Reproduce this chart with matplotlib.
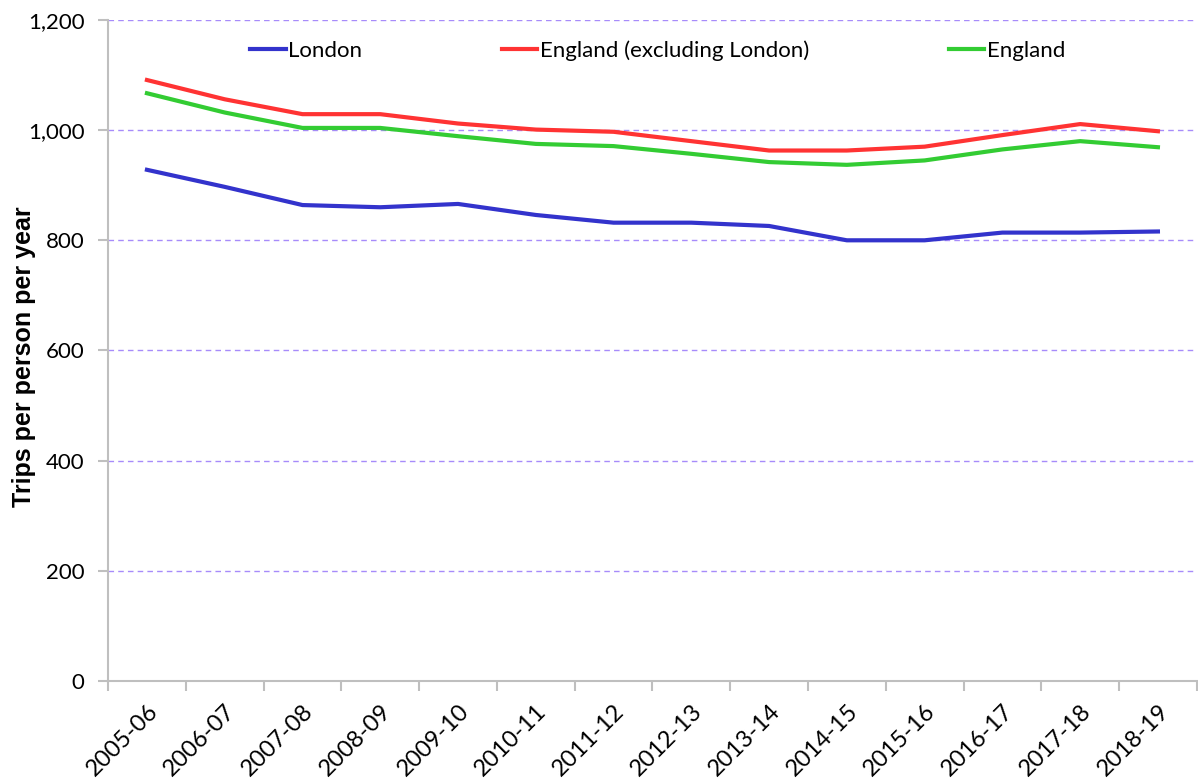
import matplotlib
matplotlib.use('Agg')
import matplotlib.pyplot as plt

# data
years = ['2005-06', '2006-07', '2007-08', '2008-09', '2009-10', '2010-11', '2011-12',
         '2012-13', '2013-14', '2014-15', '2015-16', '2016-17', '2017-18', '2018-19']
london = [928, 897, 864, 860, 866, 846, 832, 832, 826, 800, 800, 814, 814, 816]
england_excl = [1091, 1056, 1029, 1029, 1012, 1001, 997, 980, 963, 963, 970, 991, 1011, 998]
england = [1067, 1032, 1004, 1004, 989, 975, 971, 957, 942, 937, 945, 965, 980, 969]
yticks = [0, 200, 400, 600, 800, 1000, 1200]

plt.rcParams['font.family'] = ['Lato', 'DejaVu Sans']

fig = plt.figure(figsize=(11.98, 7.83), dpi=100)
ax = fig.add_axes([0.0902, 0.1303, 0.9088, 0.8442])

x = range(len(years))
ax.plot(x, london, color='#3333CC', lw=3, label='London')
ax.plot(x, england_excl, color='#FF3333', lw=3, label='England (excluding London)')
ax.plot(x, england, color='#33CC33', lw=3, label='England')

ax.set_xlim(-0.5, len(years) - 0.5)
ax.set_ylim(0, 1200)
ax.set_yticks(yticks)
ax.set_yticklabels(['{:,}'.format(v) for v in yticks], fontsize=16)
for v in yticks[1:]:
    ax.axhline(v, color='#A78BFA', lw=1, ls=(0, (4, 3)), zorder=0)

ax.set_xticks(list(x))
ax.set_xticklabels(years, rotation=45, ha='right', rotation_mode='anchor', fontsize=17)
ax.set_xticks([i - 0.5 for i in range(len(years) + 1)], minor=True)
ax.tick_params(axis='x', which='major', length=0, pad=14)
ax.tick_params(axis='x', which='minor', length=7, color='#BFBFBF', width=1.5)
ax.tick_params(axis='y', length=7, color='#BFBFBF', width=1.5, pad=10)

for s in ['top', 'right']:
    ax.spines[s].set_visible(False)
for s in ['left', 'bottom']:
    ax.spines[s].set_color('#BFBFBF')
    ax.spines[s].set_linewidth(1.5)

ax.set_ylabel('Trips per person per year', fontsize=18, fontweight='bold',
              family='Liberation Sans')
ax.yaxis.set_label_coords(-0.066, 0.49)

ax.legend(loc='upper left', bbox_to_anchor=(0.112, 1.0), ncol=3, frameon=False,
          fontsize=16, handlelength=1.6, handletextpad=0.1, columnspacing=6.3)

fig.savefig('out.png', dpi=100)
